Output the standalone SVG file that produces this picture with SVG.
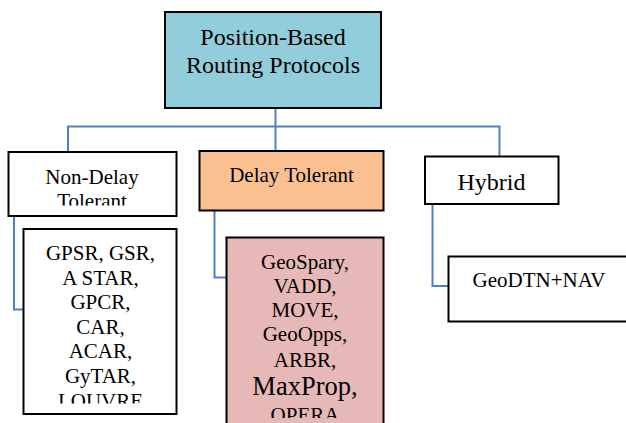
<svg xmlns="http://www.w3.org/2000/svg" width="626" height="423" viewBox="0 0 626 423">
  <style>
    .box { stroke: #000; stroke-width: 2; }
    .t { font-family: "Liberation Serif", "Times New Roman", serif; fill: #000; text-anchor: middle; }
    .conn { fill: none; stroke: #4F81BD; stroke-width: 2; }
  </style>
  <defs>
    <clipPath id="clipNonDelay"><rect x="8" y="152" width="169" height="53.5"/></clipPath>
    <clipPath id="clipLeftList"><rect x="23" y="229" width="154" height="174.5"/></clipPath>
    <clipPath id="clipPink"><rect x="226" y="237" width="158" height="181"/></clipPath>
  </defs>
  <rect width="626" height="423" fill="#fff"/>

  <g id="connectors">
    <polyline class="conn" points="275.5,108 275.5,151"/>
    <polyline class="conn" points="68,153 68,126.5 499.5,126.5 499.5,157"/>
    <polyline class="conn" points="14,216 14,309.5 23,309.5"/>
    <polyline class="conn" points="214.5,210.5 214.5,277.5 226,277.5"/>
    <polyline class="conn" points="432.5,204 432.5,286 448,286"/>
  </g>

  <g id="root">
    <rect class="box" x="165" y="12" width="216" height="96" fill="#92CDDC"/>
    <text class="t" x="273" y="45" font-size="24">Position-Based</text>
    <text class="t" x="273" y="73" font-size="24">Routing Protocols</text>
  </g>

  <g id="non-delay">
    <rect class="box" x="8.5" y="152" width="168" height="64" fill="#fff"/>
    <g clip-path="url(#clipNonDelay)">
      <text class="t" x="92" y="183.5" font-size="21">Non-Delay</text>
      <text class="t" x="92" y="208" font-size="21">Tolerant</text>
    </g>
  </g>

  <g id="delay-tolerant">
    <rect class="box" x="199.5" y="151" width="184" height="59.5" fill="#FAC090"/>
    <text class="t" x="291.5" y="182" font-size="21">Delay Tolerant</text>
  </g>

  <g id="hybrid">
    <rect class="box" x="425" y="156.5" width="133.5" height="47.5" fill="#fff"/>
    <text class="t" x="491.5" y="189.5" font-size="24">Hybrid</text>
  </g>

  <g id="non-delay-list">
    <rect class="box" x="23.5" y="229" width="153" height="185" fill="#fff"/>
    <g clip-path="url(#clipLeftList)">
      <text class="t" x="100.5" y="260" font-size="21">GPSR, GSR,</text>
      <text class="t" x="100.5" y="284.5" font-size="21">A STAR,</text>
      <text class="t" x="100.5" y="309" font-size="21">GPCR,</text>
      <text class="t" x="100.5" y="333.5" font-size="21">CAR,</text>
      <text class="t" x="100.5" y="358" font-size="21">ACAR,</text>
      <text class="t" x="100.5" y="382.5" font-size="21">GyTAR,</text>
      <text class="t" x="100.5" y="407.5" font-size="21">LOUVRE</text>
    </g>
  </g>

  <g id="delay-list">
    <rect class="box" x="226.5" y="237.5" width="157" height="190" fill="#E6B8B7"/>
    <g clip-path="url(#clipPink)">
      <text class="t" x="305" y="268.5" font-size="21">GeoSpary,</text>
      <text class="t" x="305" y="292.5" font-size="21">VADD,</text>
      <text class="t" x="305" y="317" font-size="21">MOVE,</text>
      <text class="t" x="305" y="341" font-size="21">GeoOpps,</text>
      <text class="t" x="305" y="366.5" font-size="21">ARBR,</text>
      <text class="t" x="305" y="395" font-size="26.5">MaxProp,</text>
      <text class="t" x="305" y="421.5" font-size="21">OPERA</text>
    </g>
  </g>

  <g id="hybrid-list">
    <rect class="box" x="448.5" y="256.5" width="180" height="65" fill="#fff"/>
    <text class="t" x="539" y="287" font-size="21">GeoDTN+NAV</text>
  </g>
</svg>
